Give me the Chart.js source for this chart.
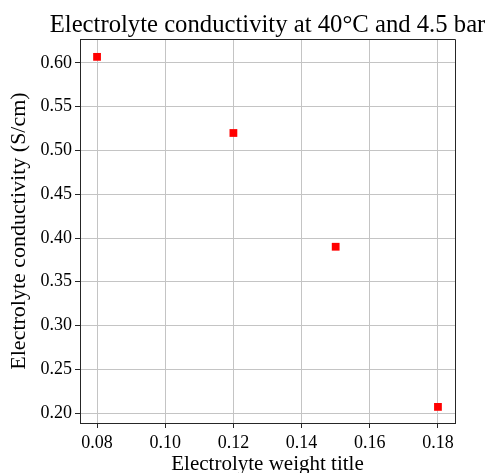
<!DOCTYPE html>
<html>
<head>
<meta charset="utf-8">
<script src="https://cdn.jsdelivr.net/npm/chart.js@4"></script>
<style>
  html, body { margin: 0; padding: 0; background: #fff; }
  #wrap { width: 489px; height: 473px; }
</style>
</head>
<body>
<div id="wrap"><canvas id="g_conductivity"></canvas></div>
<script>
// data
const weights = [0.08, 0.12, 0.15, 0.18];
const conductivity = [0.607, 0.52, 0.39, 0.207];
const xTicks = [0.08, 0.10, 0.12, 0.14, 0.16, 0.18];
const yTicks = [0.20, 0.25, 0.30, 0.35, 0.40, 0.45, 0.50, 0.55, 0.60];
const titleText = 'Electrolyte conductivity at 40°C and 4.5 bar';
const xLabel = 'Electrolyte weight title';
const yLabel = 'Electrolyte conductivity (S/cm)';

const serif = "'Liberation Serif', 'Times New Roman', serif";
const gridCol = '#c4c4c4';
const spineCol = '#262626';

// title centred over the plot area + top/right spines, like matplotlib
const plotFrame = {
    id: 'plotFrame',
    afterDraw(chart) {
        const ctx = chart.ctx;
        const a = chart.chartArea;
        const t = Math.floor(a.top) + 0.5;
        const r = Math.floor(a.right) + 0.5;
        ctx.save();
        ctx.strokeStyle = spineCol;
        ctx.lineWidth = 1;
        ctx.beginPath();
        ctx.moveTo(a.left, t);
        ctx.lineTo(r, t);
        ctx.lineTo(r, a.bottom);
        ctx.stroke();
        ctx.font = '24.7px ' + serif;
        ctx.fillStyle = '#000';
        ctx.textAlign = 'center';
        ctx.textBaseline = 'alphabetic';
        ctx.fillText(titleText, (a.left + a.right) / 2, 32);
        ctx.restore();
    }
};

const _config = {
    type: 'scatter',
    data: {
        datasets: [{
            data: weights.map((w, i) => ({ x: w, y: conductivity[i] })),
            backgroundColor: '#ff0000',
            borderWidth: 0,
            pointStyle: 'rect',
            pointRadius: 5.5,
            pointHoverRadius: 5.5
        }]
    },
    options: {
        responsive: true,
        maintainAspectRatio: false,
        animation: false,
        layout: { padding: { left: 0, right: 34, top: 39, bottom: 0 } },
        plugins: {
            legend: { display: false },
            title: { display: false },
            tooltip: { enabled: false }
        },
        scales: {
            x: {
                type: 'linear',
                min: 0.075,
                max: 0.185,
                afterFit: s => { s.height = 50; },
                afterBuildTicks: s => { s.ticks = xTicks.map(v => ({ value: v })); },
                ticks: {
                    callback: v => v.toFixed(2),
                    color: '#000',
                    font: { family: serif, size: 18 },
                    padding: 4,
                    maxRotation: 0
                },
                grid: { color: gridCol, lineWidth: 1, tickLength: 5, tickColor: spineCol },
                border: { color: spineCol, width: 1 },
                title: {
                    display: true,
                    text: xLabel,
                    color: '#000',
                    font: { family: serif, size: 21, lineHeight: 0.85 },
                    padding: { top: 0, bottom: 0 }
                }
            },
            y: {
                type: 'linear',
                min: 0.1886,
                max: 0.6274,
                afterFit: s => { s.width = 80; },
                afterBuildTicks: s => { s.ticks = yTicks.map(v => ({ value: v })); },
                ticks: {
                    callback: v => v.toFixed(2),
                    color: '#000',
                    font: { family: serif, size: 18 },
                    padding: 3
                },
                grid: { color: gridCol, lineWidth: 1, tickLength: 5, tickColor: spineCol },
                border: { color: spineCol, width: 1 },
                title: {
                    display: true,
                    text: yLabel,
                    color: '#000',
                    font: { family: serif, size: 22 },
                    padding: { top: 6, bottom: 0 }
                }
            }
        }
    },
    plugins: [plotFrame]
};

const id = document.getElementById('g_conductivity').getContext('2d');
const _table = new Chart(id, _config);
</script>
</body>
</html>
